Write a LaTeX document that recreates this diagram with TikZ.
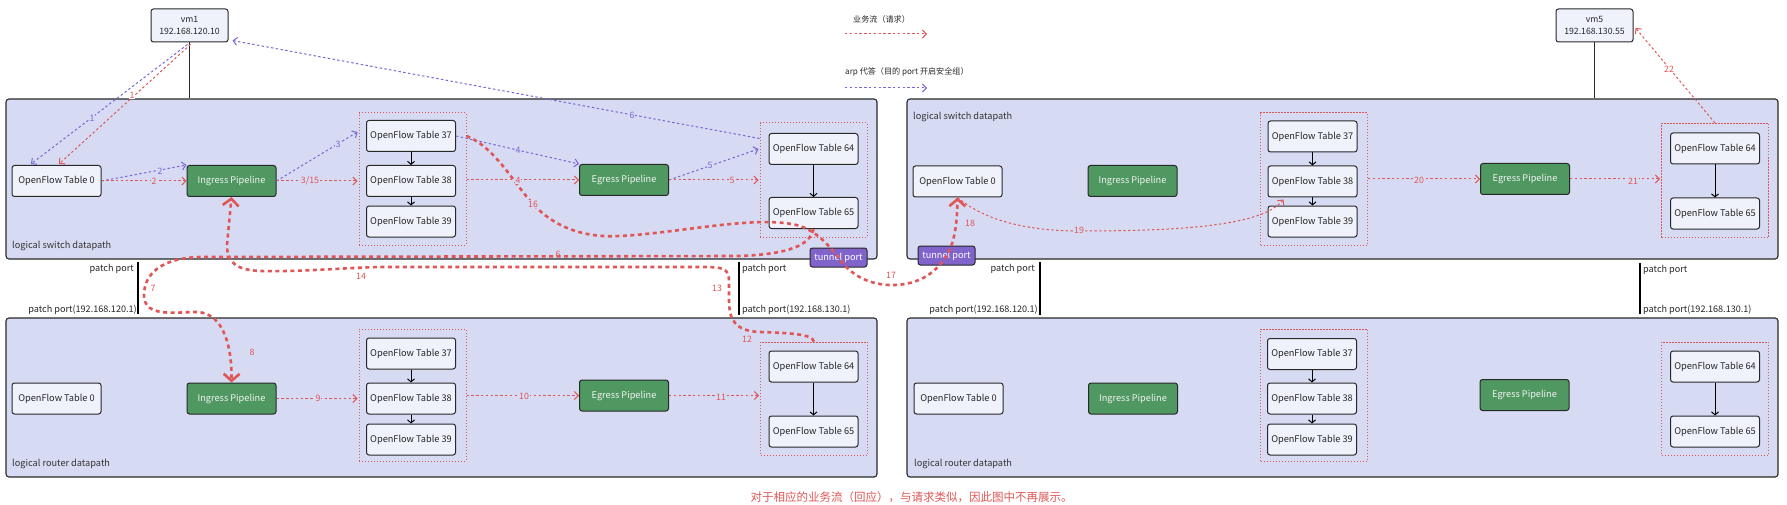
\documentclass[tikz,border=0pt]{standalone}
\usepackage{fontspec}
\setmainfont{Noto Sans CJK SC}
\usetikzlibrary{arrows.meta,calc}
\definecolor{dpfill}{RGB}{214,219,243}
\definecolor{oftfill}{RGB}{239,242,251}
\definecolor{bord}{RGB}{40,40,40}
\definecolor{pgreen}{RGB}{80,152,98}
\definecolor{tpurple}{RGB}{128,100,204}
\definecolor{redc}{RGB}{224,86,86}
\definecolor{purc}{RGB}{122,100,216}
\begin{document}
\begin{tikzpicture}[x=1pt,y=-1pt,
 dpbox/.style={draw=bord,line width=1.1pt,fill=dpfill,rounded corners=3pt,minimum width=871pt,minimum height=160pt,inner sep=0pt},
 grpbox/.style={draw=redc,line width=1pt,dash pattern=on 1.2pt off 1.8pt,minimum width=107pt,inner sep=0pt},
 oft/.style={draw=bord,line width=1pt,fill=oftfill,rounded corners=2.5pt,minimum width=89pt,minimum height=31pt,inner sep=0pt,font=\fontsize{9.2}{11}\selectfont,text=black!85},
 pipe/.style={oft,fill=pgreen,text=white!95!black},
 tport/.style={oft,fill=tpurple,text=white,minimum width=57pt,minimum height=19pt},
 vmbox/.style={oft,minimum width=77pt,minimum height=33pt,align=center,font=\fontsize{8.7}{12}\selectfont},
 dplabel/.style={font=\fontsize{9.2}{11}\selectfont,text=black!80,anchor=west,inner sep=0pt},
 pplabel/.style={font=\fontsize{9.1}{11}\selectfont,text=black!85,inner sep=0pt},
 redflow/.style={draw=redc,line width=1pt,dash pattern=on 2.4pt off 2.4pt,-{Straight Barb[length=4pt,width=8pt,line width=1pt]}},
 purflow/.style={redflow,draw=purc},
 bigflow/.style={draw=redc,line width=2.6pt,dash pattern=on 4pt off 3.5pt},
 bigtip/.style={-{Straight Barb[length=7pt,width=16pt,line width=2.6pt]}},
 inarr/.style={draw=black,line width=1pt,-{Straight Barb[length=3pt,width=7pt,line width=1pt]}},
 vmline/.style={draw=bord,line width=1.3pt},
 ppline/.style={draw=black,line width=1.2pt},
 rlab/.style={font=\fontsize{8.8}{10}\selectfont,text=redc,inner sep=0.8pt},
 plab/.style={rlab,text=purc},
]
\fill[white] (0,0) rectangle (1787,505);
\useasboundingbox (0,0) rectangle (1787,505);

% datapath boxes
\node[dpbox] (ls1) at (441.5,179) {};
\node[dpbox,minimum height=159pt] (lr1) at (441.5,397.5) {};
\node[dpbox] (ls2) at (1342.5,179) {};
\node[dpbox,minimum height=159pt] (lr2) at (1342.5,397.5) {};
\node[dplabel] (ls1t) at (12,246) {logical switch datapath};
\node[dplabel] (ls2t) at (913,117) {logical switch datapath};
\node[dplabel] (lr1t) at (12,464) {logical router datapath};
\node[dplabel] (lr2t) at (914,464) {logical router datapath};

% dotted groups
\node[grpbox,minimum height=132pt] (g1) at (412.5,179) {};
\node[grpbox,minimum height=114pt] (g2) at (813.5,180) {};
\node[grpbox,minimum height=132pt] (g3) at (412.5,395) {};
\node[grpbox,minimum height=113pt] (g4) at (814,398.5) {};
\node[grpbox,minimum height=132pt] (g5) at (1314,179) {};
\node[grpbox,minimum height=114pt] (g6) at (1715,180.5) {};
\node[grpbox,minimum height=132pt] (g7) at (1314,395) {};
\node[grpbox,minimum height=113pt] (g8) at (1715,398.5) {};

% vms
\node[vmbox] (vm1) at (189.5,25.5) {vm1\\192.168.120.10};
\node[vmbox] (vm5) at (1594.5,25.5) {vm5\\192.168.130.55};
\draw[vmline] (vm1.south) -- (vm1.south |- ls1.north);
\draw[vmline] (vm5.south) -- (vm5.south |- ls2.north);

% LS1
\node[oft] (a0) at (56.5,181) {OpenFlow Table 0};
\node[pipe] (ain) at (231.5,181) {Ingress Pipeline};
\node[oft] (a37) at (411,136) {OpenFlow Table 37};
\node[oft] (a38) at (411,181) {OpenFlow Table 38};
\node[oft] (a39) at (411,221.5) {OpenFlow Table 39};
\node[pipe] (aeg) at (624,180) {Egress Pipeline};
\node[oft] (a64) at (813.5,149) {OpenFlow Table 64};
\node[oft] (a65) at (813.5,213) {OpenFlow Table 65};
% LR1
\node[oft] (c0) at (56.5,398.5) {OpenFlow Table 0};
\node[pipe] (cin) at (231.5,398.5) {Ingress Pipeline};
\node[oft] (c37) at (411,353.5) {OpenFlow Table 37};
\node[oft] (c38) at (411,398.5) {OpenFlow Table 38};
\node[oft] (c39) at (411,439.5) {OpenFlow Table 39};
\node[pipe] (ceg) at (624,395.5) {Egress Pipeline};
\node[oft] (c64) at (813.5,366.5) {OpenFlow Table 64};
\node[oft] (c65) at (813.5,431.5) {OpenFlow Table 65};
% LS2
\node[oft] (b0) at (957.5,181.5) {OpenFlow Table 0};
\node[pipe] (bin) at (1132.5,181) {Ingress Pipeline};
\node[oft] (b37) at (1312.5,136.5) {OpenFlow Table 37};
\node[oft] (b38) at (1312.5,181.5) {OpenFlow Table 38};
\node[oft] (b39) at (1312.5,221.5) {OpenFlow Table 39};
\node[pipe] (beg) at (1525,179) {Egress Pipeline};
\node[oft] (b64) at (1715,148.5) {OpenFlow Table 64};
\node[oft] (b65) at (1715,213.5) {OpenFlow Table 65};
% LR2
\node[oft] (d0) at (958.5,398.5) {OpenFlow Table 0};
\node[pipe] (din) at (1133,398.5) {Ingress Pipeline};
\node[oft] (d37) at (1312,354) {OpenFlow Table 37};
\node[oft] (d38) at (1312,398.5) {OpenFlow Table 38};
\node[oft] (d39) at (1312,439.5) {OpenFlow Table 39};
\node[pipe] (deg) at (1524.5,395) {Egress Pipeline};
\node[oft] (d64) at (1715,366.5) {OpenFlow Table 64};
\node[oft] (d65) at (1715,431.5) {OpenFlow Table 65};

% inner arrows
\foreach \p in {a,b,c,d}{
  \draw[inarr] (\p37.south) -- (\p38.north);
  \draw[inarr] (\p38.south) -- (\p39.north);
  \draw[inarr] (\p64.south) -- (\p65.north);
}

% tunnel ports
\node[tport] (tp1) at (838.5,257.5) {tunnel port};
\node[tport] (tp2) at (946.5,255.5) {tunnel port};

% patch ports
\coordinate (pp1t) at (138,262); \coordinate (pp1b) at (138,314);
\coordinate (pp2t) at (739,262); \coordinate (pp2b) at (739,315);
\coordinate (pp3t) at (1040,262); \coordinate (pp3b) at (1040,315);
\coordinate (pp4t) at (1640,263); \coordinate (pp4b) at (1640,314);
\draw[ppline] (pp1t) -- (pp1b);
\draw[ppline] (pp2t) -- (pp2b);
\draw[ppline] (pp3t) -- (pp3b);
\draw[ppline] (pp4t) -- (pp4b);
\node[pplabel,anchor=east] (pp1u) at (134,269) {patch port};
\node[pplabel,anchor=east] (pp1l) at (137,310) {patch port(192.168.120.1)};
\node[pplabel,anchor=west] (pp2u) at (742,269) {patch port};
\node[pplabel,anchor=west] (pp2l) at (742,310) {patch port(192.168.130.1)};
\node[pplabel,anchor=east] (pp3u) at (1035,269) {patch port};
\node[pplabel,anchor=east] (pp3l) at (1038,310) {patch port(192.168.120.1)};
\node[pplabel,anchor=west] (pp4u) at (1643,270) {patch port};
\node[pplabel,anchor=west] (pp4l) at (1643,310) {patch port(192.168.130.1)};

% legend
\node[anchor=west,inner sep=0pt,font=\fontsize{8.1}{10}\selectfont,text=black!85] (lg1) at (853,19) {业务流（请求）};
\coordinate (lg1a) at (845,34); \coordinate (lg1b) at (927,34);
\draw[redflow] (lg1a) -- (lg1b);
\node[anchor=west,inner sep=0pt,font=\fontsize{8.1}{10}\selectfont,text=black!85] (lg2) at (845,72) {arp 代答（目的 port 开启安全组）};
\coordinate (lg2a) at (845,88); \coordinate (lg2b) at (927,88);
\draw[purflow] (lg2a) -- (lg2b);

% thin flows LS1
\draw[purflow] ($(vm1.south)+(-2,2)$) -- ($(a0.north)+(-25.5,-1)$);
\draw[redflow] ($(vm1.south)+(1,2)$) -- ($(a0.north)+(2.5,-1)$);
\draw[purflow] (a0.east) -- (ain.north west);
\draw[redflow] (a0.east) -- (ain.west);
\draw[purflow] (ain.east) -- ($(g1.west |- a37.center)+(-1,-4)$);
\draw[redflow] (ain.east) -- ($(g1.west |- ain.east)+(-1,0)$);
\draw[purflow] (a37.east) -- (aeg.north west);
\draw[redflow] (g1.east |- aeg.west) -- (aeg.west);
\draw[purflow] (aeg.east) -- ($(g2.west |- a64.center)+(-1,0)$);
\draw[redflow] (aeg.east) -- ($(g2.west |- aeg.east)+(-1,0)$);
\draw[purflow] ($(g2.north west)+(0,16)$) -- ($(vm1.south east)+(4,-2)$);
% thin flows LR1
\draw[redflow] (cin.east) -- ($(g3.west |- cin.east)+(-1,0)$);
\draw[redflow] (g3.east |- ceg.west) -- (ceg.west);
\draw[redflow] (ceg.east) -- ($(g4.west |- ceg.east)+(-1,0)$);
% thin flows LS2
\draw[redflow] (b0.south) .. controls (990,225) and (1040,231) .. (1080,231) .. controls (1180,231) and (1262,226) .. ($(b38.south west)+(16,2)$);
\draw[redflow] (g5.east |- beg.west) -- (beg.west);
\draw[redflow] (beg.east) -- ($(g6.west |- beg.east)+(-1,0)$);
\draw[redflow] (g6.north) -- ($(vm5.east)+(2,2.5)$);

% thick flows
\draw[bigflow,bigtip] (a65.south) .. controls (810,245) and (790,254) .. (740,256) -- (200,257) .. controls (160,258) and (144,275) .. (144,295) .. controls (144,318) and (175,312) .. (197,312) .. controls (225,313) and (232,350) .. (cin.north);
\draw[bigflow,bigtip] (g4.north) .. controls (812,334) and (790,333) .. (760,332) .. controls (735,331) and (729,320) .. (729,300) -- (729,282) .. controls (729,268) and (724,267) .. (700,267) -- (380,267) .. controls (340,268) and (300,272) .. (260,271) .. controls (236,270) and (227,262) .. (227,245) -- (ain.south);
\draw[bigflow,bigtip] (g1.east |- a37.east) .. controls (495,147) and (515,185) .. (533,204) .. controls (555,228) and (585,238) .. (620,236) .. controls (680,233) and (760,214) .. (800,226) .. controls (820,233) and (830,248) .. (tp1.center) .. controls (848,272) and (865,284) .. (889,285) .. controls (915,286) and (935,275) .. (tp2.center) .. controls (953,245) and (957,230) .. (b0.south);

% labels
\node[rlab,fill=white] (l1r) at (132,95) {1};
\node[plab,fill=dpfill] (l1p) at (92,118) {1};
\node[rlab,fill=dpfill] (l2r) at (154,181) {2};
\node[plab,fill=dpfill] (l2p) at (160,171) {2};
\node[plab,fill=dpfill] (l3p) at (338,144) {3};
\node[rlab,fill=dpfill] (l3r) at (310,181) {3/15};
\node[plab,fill=dpfill] (l4p) at (518,150) {4};
\node[rlab,fill=dpfill] (l4r) at (518,180) {4};
\node[plab,fill=dpfill] (l5p) at (710,165) {5};
\node[rlab,fill=dpfill] (l5r) at (732,180) {5};
\node[plab,fill=dpfill] (l6p) at (632,115) {6};
\node[rlab,fill=dpfill] (l16) at (533,204) {16};
\node[rlab] (l6r) at (558,254) {6};
\node[rlab] (l7) at (153,288) {7};
\node[rlab] (l8) at (252,352) {8};
\node[rlab,fill=dpfill] (l9) at (318,398) {9};
\node[rlab,fill=dpfill] (l10) at (524,396) {10};
\node[rlab,fill=dpfill] (l11) at (721,397) {11};
\node[rlab] (l12) at (747,339) {12};
\node[rlab] (l13) at (717,288) {13};
\node[rlab] (l14) at (361,276) {14};
\node[rlab] (l17) at (891,275) {17};
\node[rlab] (l18) at (970,223) {18};
\node[rlab,fill=dpfill] (l19) at (1079,230) {19};
\node[rlab,fill=dpfill] (l20) at (1419,180) {20};
\node[rlab,fill=dpfill] (l21) at (1633,181) {21};
\node[rlab,fill=white] (l22) at (1669,69) {22};

% note
\node[font=\fontsize{11.5}{13}\selectfont,text=redc,inner sep=0pt] (note) at (911.5,497) {对于相应的业务流（回应），与请求类似，因此图中不再展示。};
\end{tikzpicture}
\end{document}
